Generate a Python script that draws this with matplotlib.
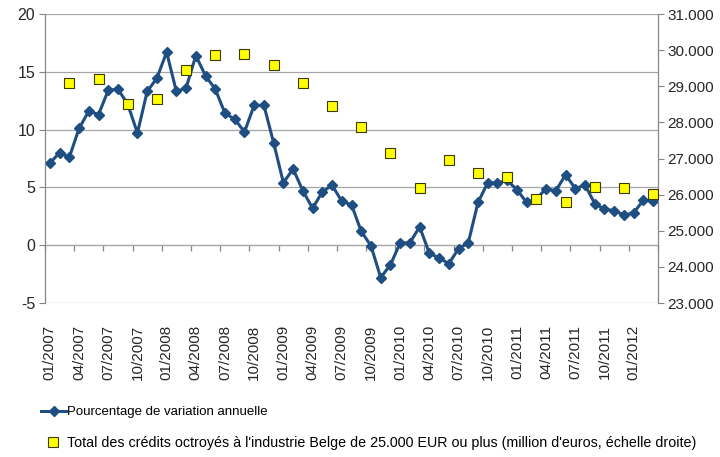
import numpy as np
import matplotlib
matplotlib.use("Agg")
import matplotlib.pyplot as plt
from matplotlib.lines import Line2D
from matplotlib.ticker import FixedLocator, FuncFormatter, NullFormatter

plt.rcParams['font.family'] = ['Liberation Sans', 'DejaVu Sans']
plt.rcParams['axes.unicode_minus'] = False

# monthly annual growth rate, 01/2007 .. 03/2012
pct_change = [
    7.1, 8.0, 7.6, 10.1, 11.6, 11.3, 13.4, 13.5, 12.2, 9.7, 13.3, 14.45,
    16.7, 13.3, 13.6, 16.4, 14.65, 13.5, 11.4, 10.9, 9.8, 12.1, 12.1, 8.85,
    5.4, 6.6, 4.7, 3.2, 4.6, 5.2, 3.8, 3.5, 1.2, -0.05, -2.8, -1.7,
    0.2, 0.2, 1.6, -0.7, -1.1, -1.6, -0.3, 0.2, 3.7, 5.4, 5.4, 5.6,
    4.8, 3.7, 4.0, 4.9, 4.7, 6.1, 4.9, 5.2, 3.6, 3.1, 3.0, 2.6,
    2.8, 3.9, 3.8,
]

# quarterly total credit (million EUR), end of quarter 03/2007 .. 03/2012
credit_idx = list(range(2, 63, 3))
credit_total = [
    29080, 29200, 28510, 28650, 29450, 29860, 29880, 29590, 29100, 28460, 27870,
    27140, 26180, 26970, 26600, 26490, 25880, 25800, 26210, 26190, 26030,
]

months = []
for y in range(2007, 2013):
    for m in range(1, 13):
        months.append(f"{m:02d}/{y}")
months = months[:len(pct_change)]

blue = '#1F4E82'
grid_col = '#A6A6A6'
axis_col = '#868686'
txt_col = '#262626'

fig = plt.figure(figsize=(7.2, 4.57), dpi=100)
ax = fig.add_axes([45 / 720, 1 - 303 / 457, 613 / 720, 289 / 457])
ax2 = ax.twinx()

x = np.arange(len(pct_change))
ax.plot(x, pct_change, color=blue, lw=2.2, marker='D', ms=5, zorder=3)
ax2.plot(credit_idx, credit_total, ls='none', marker='s', ms=7.5,
         mfc='#FFFF00', mec='#3A3A00', mew=0.8, zorder=4)
ax2.set_zorder(ax.get_zorder() + 1)
ax2.patch.set_visible(False)

ax.set_xlim(-0.5, len(pct_change) - 0.5)
ax.set_ylim(-5, 20)
ax.set_yticks([-5, 0, 5, 10, 15, 20])
ax.grid(axis='y', color=grid_col, lw=0.9)
ax.set_axisbelow(True)

ax2.set_ylim(23000, 31000)
ax2.set_yticks(range(23000, 31001, 1000))
ax2.yaxis.set_major_formatter(FuncFormatter(lambda v, p: f"{v:,.0f}".replace(',', '.')))

# month labels every quarter, no tick marks at the bottom
lab_pos = list(range(0, len(pct_change), 3))
ax.set_xticks(lab_pos)
ax.set_xticklabels([months[i] for i in lab_pos], rotation=90)
ax.tick_params(axis='x', length=0, pad=16, labelsize=11, colors=txt_col)

# category axis crossing at zero with tick marks between quarters
sec = ax.secondary_xaxis(5 / 25)
sec.xaxis.set_major_locator(FixedLocator(np.arange(-0.5, len(pct_change), 3)))
sec.xaxis.set_major_formatter(NullFormatter())
sec.tick_params(axis='x', direction='out', length=4, color=axis_col, width=0.9)
sec.spines['bottom'].set_color(axis_col)

for a in (ax, ax2):
    a.spines['top'].set_visible(False)
    a.spines['bottom'].set_visible(False)
    a.spines['left'].set_color(axis_col)
    a.spines['right'].set_color(axis_col)
ax.tick_params(axis='y', length=4, color=axis_col, labelsize=11.5, colors=txt_col, pad=3)
ax2.tick_params(axis='y', length=4, color=axis_col, labelsize=11, colors=txt_col, pad=3)

h1 = Line2D([], [], color=blue, lw=2.2, marker='D', ms=5)
h2 = Line2D([], [], ls='none', marker='s', ms=7, mfc='#FFFF00', mec='#3A3A00', mew=0.8)
fig.legend([h1], ['Pourcentage de variation annuelle'], loc='center left',
           bbox_to_anchor=(41 / 720, 1 - 412 / 457), frameon=False, fontsize=9.5,
           handlelength=1.9, handletextpad=0.1, borderaxespad=0, borderpad=0)
fig.legend([h2], ["Total des crédits octroyés à l'industrie Belge de 25.000 EUR ou plus (million d'euros, échelle droite)"],
           loc='center left', bbox_to_anchor=(41 / 720, 1 - 443 / 457), frameon=False,
           fontsize=10.3, handlelength=1.7, handletextpad=0.1, borderaxespad=0, borderpad=0)

fig.savefig('out.png', dpi=100)
